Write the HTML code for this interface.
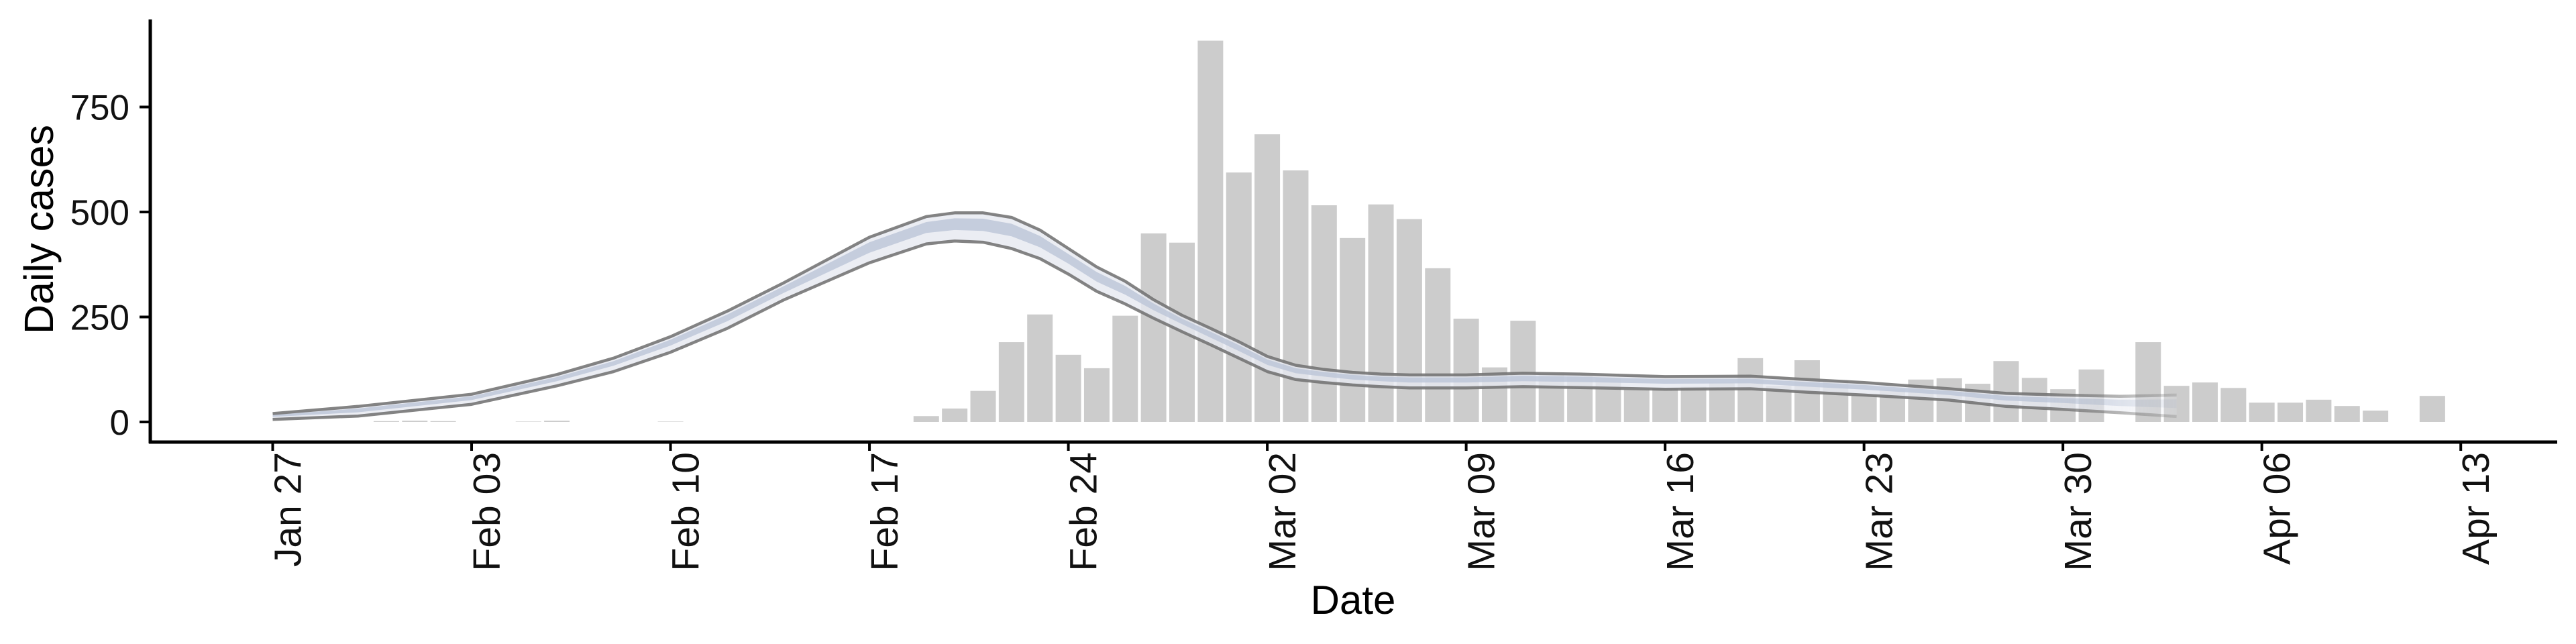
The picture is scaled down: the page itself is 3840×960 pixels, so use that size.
<!DOCTYPE html>
<html><head><meta charset="utf-8"><style>
html,body{margin:0;padding:0;background:#fff;}
svg{display:block;font-family:"Liberation Sans",sans-serif;}
</style></head><body>
<svg id="chart" width="3840" height="960" viewBox="0 0 3840 960" xmlns="http://www.w3.org/2000/svg">
<defs>
<linearGradient id="fade" gradientUnits="userSpaceOnUse" x1="3050" y1="0" x2="3250" y2="0">
<stop offset="0" stop-color="#fff" stop-opacity="1"/><stop offset="1" stop-color="#fff" stop-opacity="0.25"/>
</linearGradient>
<mask id="fadeMask"><rect x="0" y="0" width="3840" height="960" fill="url(#fade)"/></mask>
</defs>
<g id="bars"></g>
<g id="ribbon" mask="url(#fadeMask)"></g>
<g id="axes"></g>
</svg>
<script>
// Day offsets from Jan 27 (2020) with reported daily cases
const barDays = [4,5,6,9,10,14,23,24,25,26,27,28,29,30,31,32,33,34,35,36,37,38,39,40,41,42,43,44,45,46,47,48,49,50,51,52,53,54,55,56,57,58,59,60,61,62,63,64,66,67,68,69,70,71,72,73,74,76];
const barValues = [2,3,2,1,3,1,14,32,74,190,256,160,128,253,449,427,908,594,685,599,516,438,518,483,366,246,130,241,112,109,105,77,80,84,93,152,86,147,98,64,77,101,104,91,145,105,78,125,190,86,94,81,46,46,53,38,27,62];
// Ribbon estimates (day offset, 90% upper/lower, 50% upper/lower)
const curveDays = [0,3,7,10,12,14,16,18,21,23,24,25,26,27,28,29,30,31,32,33,34,35,36,37,38,39,40,42,44,46,49,52,54,56,59,61,63,65,67];
const outerUpper = [20,37,66,113,152,203,264,332,440,489,498,498,487,457,413,369,335,291,254,223,191,156,135,125,118,114,112,112,116,114,108,109,101,94,79,68,64,61,64];
const outerLower = [6,14,42,86,120,166,223,291,379,424,431,428,413,389,352,311,281,247,215,184,152,120,101,94,88,84,81,81,84,82,78,79,71,64,52,37,30,22,13];
const innerUpper = [17,32,61,107,145,196,256,324,428,476,485,484,472,443,400,357,324,282,246,215,183,149,128,119,112,108,106,106,110,108,102,103,95,88,74,62,57,53,54];
const innerLower = [12,23,52,97,134,182,240,308,403,450,457,455,442,416,377,334,303,266,233,201,169,136,116,108,101,97,94,94,97,95,91,92,84,77,64,51,45,38,33];
const xTickDays = [0,7,14,21,28,35,42,49,56,63,70,77];
const xTickLabels = ["Jan 27","Feb 03","Feb 10","Feb 17","Feb 24","Mar 02","Mar 09","Mar 16","Mar 23","Mar 30","Apr 06","Apr 13"];
const yTicks = [0,250,500,750];

const NS = "http://www.w3.org/2000/svg";
const X0 = 406.5, DAY = 42.36, Y0 = 629, PERUNIT = 156.5/250;
function xs(d){return X0 + d*DAY;}
function ys(v){return Y0 - v*PERUNIT;}
function mk(tag, attrs, parent){const e=document.createElementNS(NS,tag);for(const k in attrs)e.setAttribute(k,attrs[k]);parent.appendChild(e);return e;}

const gB = document.getElementById('bars');
barDays.forEach((d,i)=>{
  const w = 38, h = barValues[i]*PERUNIT;
  const r = mk('rect',{x:xs(d)-w/2,y:Y0-h,width:w,height:h,fill:'#cccccc'},gB);
  
  
});

const gR = document.getElementById('ribbon');
function bandPath(up, lo){
  let p = '';
  curveDays.forEach((d,i)=>{p += (i?'L':'M') + xs(d).toFixed(1)+','+ys(up[i]).toFixed(1);});
  for(let i=curveDays.length-1;i>=0;i--){p += 'L'+xs(curveDays[i]).toFixed(1)+','+ys(lo[i]).toFixed(1);}
  return p+'Z';
}
function linePath(arr){
  let p='';curveDays.forEach((d,i)=>{p += (i?'L':'M') + xs(d).toFixed(1)+','+ys(arr[i]).toFixed(1);});return p;
}
const outer = mk('path',{d:bandPath(outerUpper,outerLower),fill:'#e6e8f0','fill-opacity':'0.8'},gR);


const inner = mk('path',{d:bandPath(innerUpper,innerLower),fill:'#b8c1d6','fill-opacity':'0.75'},gR);


const lu = mk('path',{d:linePath(outerUpper),fill:'none',stroke:'#6e6e6e','stroke-width':'4.5','stroke-opacity':'0.85','stroke-linejoin':'round'},gR);


const ll = mk('path',{d:linePath(outerLower),fill:'none',stroke:'#6e6e6e','stroke-width':'4.5','stroke-opacity':'0.85','stroke-linejoin':'round'},gR);



const gA = document.getElementById('axes');
const ya = mk('line',{x1:224,y1:29,x2:224,y2:661,stroke:'#000','stroke-width':'5'},gA);


const xa = mk('line',{x1:222,y1:659,x2:3812,y2:659,stroke:'#000','stroke-width':'5'},gA);


yTicks.forEach(v=>{
  const t = mk('line',{x1:208,y1:ys(v),x2:224,y2:ys(v),stroke:'#000','stroke-width':'4'},gA);
  
  
  const l = mk('text',{x:193,y:ys(v)+19,'text-anchor':'end','font-size':'53',fill:'#111'},gA);
  l.textContent = v;
  
  
});
xTickDays.forEach((d,i)=>{
  const x = xs(d);
  const t = mk('line',{x1:x,y1:659,x2:x,y2:672,stroke:'#000','stroke-width':'4'},gA);
  
  
  const l = mk('text',{x:0,y:0,'text-anchor':'end','font-size':'57',fill:'#111',transform:'translate('+(x+42)+',674) rotate(-90)'},gA);
  l.textContent = xTickLabels[i];
  
  
});
const yt = mk('text',{x:0,y:0,'text-anchor':'middle','font-size':'61',fill:'#000',transform:'translate(79,342) rotate(-90)'},gA);
yt.textContent = 'Daily cases';


const xt = mk('text',{x:2017,y:915,'text-anchor':'middle','font-size':'60',fill:'#000'},gA);
xt.textContent = 'Date';


</script>
</body></html>
